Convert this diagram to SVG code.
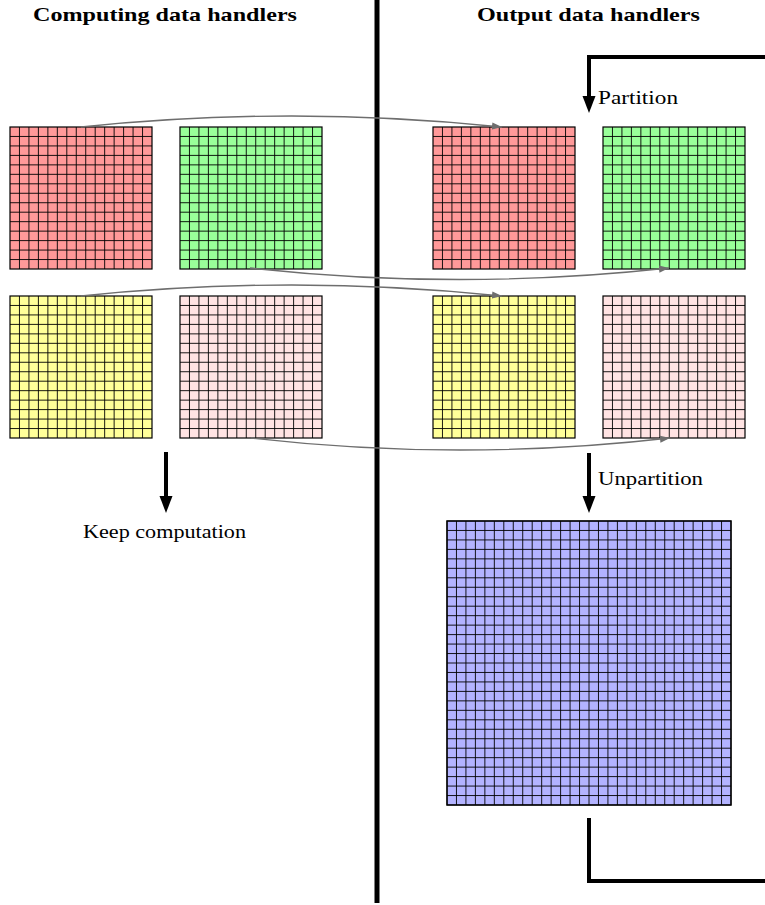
<svg xmlns="http://www.w3.org/2000/svg" xmlns:xlink="http://www.w3.org/1999/xlink" width="765" height="905" viewBox="0 0 765 905">
<style>
.cell{stroke:#000;stroke-width:0.9;fill:none}
.box{stroke:#000;stroke-width:1.2}
.red{fill:#ff9999}.green{fill:#99ff99}.yellow{fill:#ffff99}.pink{fill:#ffe3e3}.blue{fill:#b3b3ff}
.curve{fill:none;stroke:#6e6e6e;stroke-width:1.4;marker-end:url(#ga)}
.thick{fill:none;stroke:#000;stroke-width:4}
.arr{fill:none;stroke:#000;stroke-width:4;marker-end:url(#ba)}
.t{font-family:"Liberation Serif","DejaVu Serif",serif;font-size:19.5px;fill:#000}
.b{font-weight:bold}
</style>
<defs>
<marker id="ga" markerUnits="userSpaceOnUse" markerWidth="12" markerHeight="10" viewBox="0 -5 12 10" refX="10" refY="0" orient="auto"><path d="M0,-3.6 L10,0 L0,3.6 z" fill="#6e6e6e"/></marker>
<marker id="ba" markerUnits="userSpaceOnUse" markerWidth="18" markerHeight="14" viewBox="0 -7 18 14" refX="0" refY="0" orient="auto"><path d="M0,-6.5 L17,0 L0,6.5 z" fill="#000"/></marker>
<path id="g15" class="cell" d="M9.467 0V142M18.933 0V142M28.4 0V142M37.867 0V142M47.333 0V142M56.8 0V142M66.267 0V142M75.733 0V142M85.2 0V142M94.667 0V142M104.133 0V142M113.6 0V142M123.067 0V142M132.533 0V142M0 9.467H142M0 18.933H142M0 28.4H142M0 37.867H142M0 47.333H142M0 56.8H142M0 66.267H142M0 75.733H142M0 85.2H142M0 94.667H142M0 104.133H142M0 113.6H142M0 123.067H142M0 132.533H142"/>
</defs>
<g id="comp-red"><rect class="box red" x="10" y="127" width="142" height="142"/><use xlink:href="#g15" x="10" y="127"/></g>
<g id="comp-green"><rect class="box green" x="180" y="127" width="142" height="142"/><use xlink:href="#g15" x="180" y="127"/></g>
<g id="comp-yellow"><rect class="box yellow" x="10" y="296" width="142" height="142"/><use xlink:href="#g15" x="10" y="296"/></g>
<g id="comp-pink"><rect class="box pink" x="180" y="296" width="142" height="142"/><use xlink:href="#g15" x="180" y="296"/></g>
<g id="out-red"><rect class="box red" x="433" y="127" width="142" height="142"/><use xlink:href="#g15" x="433" y="127"/></g>
<g id="out-green"><rect class="box green" x="603" y="127" width="142" height="142"/><use xlink:href="#g15" x="603" y="127"/></g>
<g id="out-yellow"><rect class="box yellow" x="433" y="296" width="142" height="142"/><use xlink:href="#g15" x="433" y="296"/></g>
<g id="out-pink"><rect class="box pink" x="603" y="296" width="142" height="142"/><use xlink:href="#g15" x="603" y="296"/></g>
<g id="out-full"><rect class="box blue" x="447" y="521" width="284" height="284"/><use xlink:href="#g15" x="447" y="521"/><use xlink:href="#g15" x="589" y="521"/><use xlink:href="#g15" x="447" y="663"/><use xlink:href="#g15" x="589" y="663"/><path class="cell" d="M589 521V805M447 663H731"/><rect class="box" fill="none" x="447" y="521" width="284" height="284"/></g>
<g id="divider"><line x1="377" y1="0" x2="377" y2="903" stroke="#000" stroke-width="5"/></g>
<g id="labels">
<text class="t b" x="33" y="20.5" textLength="264" lengthAdjust="spacingAndGlyphs">Computing data handlers</text>
<text class="t b" x="477" y="20.5" textLength="223" lengthAdjust="spacingAndGlyphs">Output data handlers</text>
<text class="t" x="598" y="104" textLength="80" lengthAdjust="spacingAndGlyphs">Partition</text>
<text class="t" x="598" y="485" textLength="105" lengthAdjust="spacingAndGlyphs">Unpartition</text>
<text class="t" x="83" y="538" textLength="163" lengthAdjust="spacingAndGlyphs">Keep computation</text>
</g>
<g id="connectors">
<path class="curve" d="M81 127 Q291.5 105 502 127"/>
<path class="curve" d="M250 268 Q459.5 291 669 268"/>
<path class="curve" d="M81 296 Q291.5 274 502 296"/>
<path class="curve" d="M251 438 Q460.5 462 670 438"/>
<path class="arr" d="M766 57 H589 V96"/>
<path class="arr" d="M589 453 V496"/>
<path class="arr" d="M166 452 V496"/>
<path class="thick" d="M589 818 V881 H766"/>
</g>
</svg>
